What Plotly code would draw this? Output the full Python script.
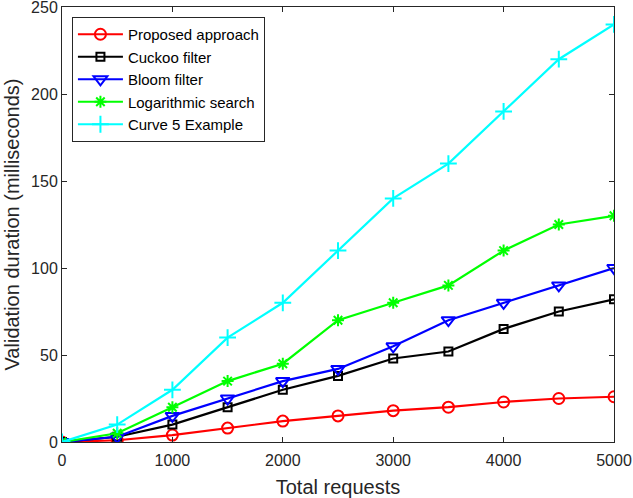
import plotly.graph_objects as go

requests = [0, 500, 1000, 1500, 2000, 2500, 3000, 3500, 4000, 4500, 5000]
proposed = [0, 1, 4, 8, 12, 15, 18, 20, 23, 25, 26]
cuckoo = [0, 3, 10, 20, 30, 38, 48, 52, 65, 75, 82]
bloom = [0, 3, 15, 25, 35, 42, 55, 70, 80, 90, 100]
logsearch = [0, 5, 20, 35, 45, 70, 80, 90, 110, 125, 130]
curve5 = [0, 10, 30, 60, 80, 110, 140, 160, 190, 220, 240]

series = [
    ("Proposed approach", proposed, "#ff0000", "circle-open", 11),
    ("Cuckoo filter", cuckoo, "#000000", "square-open", 8),
    ("Bloom filter", bloom, "#0000ff", "triangle-down-open", 12),
    ("Logarithmic search", logsearch, "#00ff00", "asterisk-open", 10),
    ("Curve 5 Example", curve5, "#00ffff", "cross-thin-open", 12),
]

fig = go.Figure()
for name, vals, color, sym, size in series:
    fig.add_trace(go.Scatter(
        x=requests, y=vals, name=name, mode="lines+markers",
        line=dict(color=color, width=2.2),
        marker=dict(symbol=sym, size=size, color=color,
                    line=dict(color=color, width=2)),
    ))

axis_common = dict(
    showgrid=False, zeroline=False, mirror="ticks", showline=True,
    linecolor="#262626", linewidth=1, ticks="inside", ticklen=5,
    tickcolor="#262626", tickfont=dict(size=16, color="#262626"),
    ticklabeloverflow="allow", automargin=False,
)
fig.update_layout(
    width=633, height=498,
    margin=dict(l=62, r=19, t=7, b=56, autoexpand=False),
    paper_bgcolor="white", plot_bgcolor="white",
    font=dict(family="Liberation Sans, Arial, sans-serif", color="#262626"),
    xaxis=dict(range=[0, 5000], tickvals=[0, 1000, 2000, 3000, 4000, 5000],
               title=dict(text="Total requests", font=dict(size=20), standoff=14),
               ticklabelstandoff=4,
               **axis_common),
    yaxis=dict(range=[0, 250], tickvals=[0, 50, 100, 150, 200, 250],
               title=dict(text="Validation duration (milliseconds)", font=dict(size=20), standoff=6),
               **axis_common),
    legend=dict(x=0.018, y=0.977, xanchor="left", yanchor="top",
                bordercolor="#262626", borderwidth=1, bgcolor="white",
                font=dict(size=15, color="#000000"), tracegroupgap=0,
                itemwidth=45),
)
fig.write_html("out.html")
